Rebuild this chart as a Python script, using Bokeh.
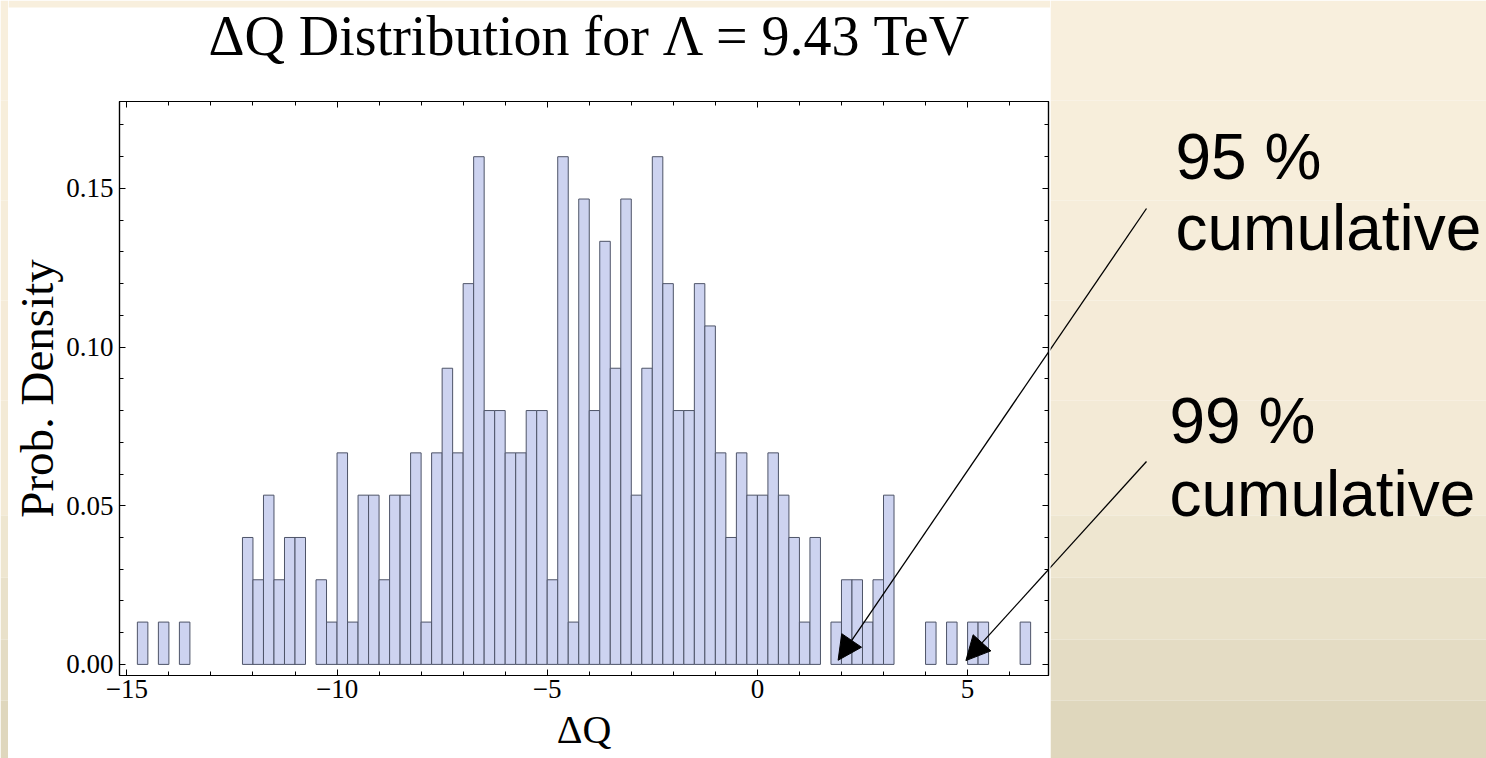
import math

from bokeh.embed import file_html
from bokeh.layouts import column, row
from bokeh.models import (Arrow, FixedTicker, Label, LinearAxis, NormalHead,
                          PrintfTickFormatter, Range1d)
from bokeh.plotting import figure
from bokeh.resources import INLINE

# ---------------------------------------------------------------- data
n_samples = 300
bin_width = 0.25
# left edge of every non-empty bin and the number of samples in it
bin_left = [-14.75, -14.25, -13.75,
            -12.25, -12.0, -11.75, -11.5, -11.25, -11.0,
            -10.5, -10.25, -10.0, -9.75, -9.5, -9.25, -9.0, -8.75, -8.5, -8.25, -8.0,
            -7.75, -7.5, -7.25, -7.0, -6.75, -6.5, -6.25, -6.0, -5.75, -5.5, -5.25,
            -5.0, -4.75, -4.5, -4.25, -4.0, -3.75, -3.5, -3.25, -3.0, -2.75, -2.5, -2.25,
            -2.0, -1.75, -1.5, -1.25, -1.0, -0.75, -0.5, -0.25,
            0.0, 0.25, 0.5, 0.75, 1.0, 1.25, 1.75, 2.0, 2.25, 2.5, 2.75, 3.0,
            4.0, 4.5, 5.0, 5.25, 6.25]
bin_count = [1, 1, 1,
             3, 2, 4, 2, 3, 3,
             2, 1, 5, 1, 4, 4, 2, 4, 4, 5, 1,
             5, 7, 5, 9, 12, 6, 6, 5, 5, 6, 6,
             2, 12, 1, 11, 6, 10, 7, 11, 4, 7, 12, 9,
             6, 6, 9, 8, 5, 3, 5, 4,
             4, 5, 4, 3, 1, 3, 1, 2, 2, 1, 2, 4,
             1, 1, 1, 1, 1]

x_ticks = [-15, -10, -5, 0, 5]
x_tick_labels = ["\u221215", "\u221210", "\u22125", "0", "5"]
x_minor_ticks = [-15, -14, -13, -12, -11, -10, -9, -8, -7, -6, -5, -4, -3, -2,
                 -1, 0, 1, 2, 3, 4, 5, 6]
y_ticks = [0.0, 0.05, 0.10, 0.15]
y_minor_ticks = [0.0, 0.01, 0.02, 0.03, 0.04, 0.05, 0.06, 0.07, 0.08, 0.09, 0.10,
                 0.11, 0.12, 0.13, 0.14, 0.15, 0.16, 0.17]

title_text = "\u0394Q Distribution for \u039b = 9.43 TeV"
x_label = "\u0394Q"
y_label = "Prob. Density"
notes = [("95 %", "cumulative"), ("99 %", "cumulative")]
arrow_tips = [(1.92, 0.0013), (4.96, 0.0012)]

bin_right = [b + bin_width for b in bin_left]
density = [c / (n_samples * bin_width) for c in bin_count]

# ---------------------------------------------------------------- page geometry (px)
W, H = 1486, 758
CARD_L, CARD_R, CARD_T = 8, 1050, 7          # white card behind the chart
TITLE_H = 70                                 # strip holding the title
FRAME_L, FRAME_R, FRAME_T, FRAME_B = 119, 1048, 101, 675
X_MIN, X_MAX = -15.175, 6.925
Y_MIN, Y_MAX = -0.0035, 0.1774

# beige backdrop bands (top px, bottom px, colour), darkening downwards
bands = [(0, 100, "#F8EFDD"), (100, 200, "#F7EEDB"), (200, 300, "#F6EDDA"),
         (300, 400, "#F5EBD8"), (400, 515, "#F3EAD6"), (515, 577, "#EEE6D0"),
         (577, 639, "#E9E1CA"), (639, 700, "#E4DCC4"), (700, 758, "#DFD7BD")]


def x_px(x):
    return FRAME_L + (x - X_MIN) * (FRAME_R - FRAME_L) / (X_MAX - X_MIN)


def y_px(y):
    return FRAME_B - (y - Y_MIN) * (FRAME_B - FRAME_T) / (Y_MAX - Y_MIN)


def x_data(px):
    return X_MIN + (px - FRAME_L) * (X_MAX - X_MIN) / (FRAME_R - FRAME_L)


def y_data(py):
    return Y_MIN + (FRAME_B - py) * (Y_MAX - Y_MIN) / (FRAME_B - FRAME_T)


def mid_from_baseline(base, size, ascent, descent):
    """vertical centre of a text line whose baseline sits at `base` (px, downwards)"""
    return base + (descent - ascent) * size / 2


def decor(x0, x1, y0, y1, fill="white"):
    """Axis-less panel whose data units are page pixels (y grows downwards)."""
    f = figure(width=x1 - x0, height=y1 - y0, output_backend="svg", toolbar_location=None,
               x_range=Range1d(x0, x1), y_range=Range1d(y1, y0),
               x_axis_location=None, y_axis_location=None, min_border=0,
               background_fill_color=fill, border_fill_color=fill)
    f.grid.visible = False
    f.outline_line_color = None
    return f


def paint_bands(f, x0, x1):
    f.quad(left=[x0] * len(bands), right=[x1] * len(bands),
           top=[b[0] for b in bands], bottom=[b[1] for b in bands],
           fill_color=[b[2] for b in bands], line_color=None)


# ---------------------------------------------------------------- chart
p = figure(width=CARD_R - CARD_L, height=H - TITLE_H, output_backend="svg",
           toolbar_location=None,
           x_range=Range1d(X_MIN, X_MAX), y_range=Range1d(Y_MIN, Y_MAX),
           min_border_left=FRAME_L - CARD_L, min_border_right=CARD_R - FRAME_R,
           min_border_top=FRAME_T - TITLE_H, min_border_bottom=H - FRAME_B,
           background_fill_color="white", border_fill_color="white")
p.grid.visible = False
p.outline_line_color = "black"
p.outline_line_width = 1.2

p.quad(left=bin_left, right=bin_right, bottom=0, top=density,
       fill_color="#CDD3F0", line_color="#4E5468", line_width=1)

# ticks pointing inwards on all four sides
xt = FixedTicker(ticks=x_ticks, minor_ticks=x_minor_ticks)
yt = FixedTicker(ticks=y_ticks, minor_ticks=y_minor_ticks)
p.add_layout(LinearAxis(), "above")
p.add_layout(LinearAxis(), "right")
for ax in p.xaxis:
    ax.ticker = xt
for ax in p.yaxis:
    ax.ticker = yt
for ax in p.axis:
    ax.axis_line_color = "black"
    ax.axis_line_width = 1.2
    ax.major_tick_line_color = "black"
    ax.minor_tick_line_color = "black"
    ax.major_tick_in = 6
    ax.major_tick_out = 0
    ax.minor_tick_in = 4
    ax.minor_tick_out = 0
    ax.major_label_text_font = "Liberation Serif"
    ax.major_label_text_font_size = "27px"
    ax.major_label_text_color = "black"
    ax.axis_label_text_font = "Liberation Serif"
    ax.axis_label_text_font_style = "normal"
    ax.axis_label_text_color = "black"
# mirror axes: ticks only
p.above[0].major_label_overrides = {t: "" for t in x_ticks}
p.right[0].major_label_overrides = {t: "" for t in y_ticks}
for ax in (p.above[0], p.right[0]):
    ax.major_label_standoff = 0

bottom_ax = p.below[0]
bottom_ax.major_label_overrides = dict(zip(x_ticks, x_tick_labels))
bottom_ax.major_label_standoff = 4
bottom_ax.axis_label = x_label
bottom_ax.axis_label_text_font_size = "40px"
bottom_ax.axis_label_standoff = 6

left_ax = p.left[0]
left_ax.formatter = PrintfTickFormatter(format="%.2f")
left_ax.major_label_standoff = 6
left_ax.axis_label = y_label
left_ax.axis_label_text_font_size = "47px"
left_ax.axis_label_standoff = 0

# ---------------------------------------------------------------- title strip
top = decor(CARD_L, CARD_R, 0, TITLE_H)
top.quad(left=[CARD_L], right=[CARD_R], top=[0], bottom=[CARD_T],
         fill_color=bands[0][2], line_color=None)
top.add_layout(Label(x=589, y=mid_from_baseline(54, 56, 0.891, 0.216), text=title_text,
                     text_align="center", text_baseline="middle",
                     text_font="Liberation Serif", text_font_size="56px",
                     text_color="black"))

# ---------------------------------------------------------------- side panels
left_strip = decor(0, CARD_L, 0, H)
paint_bands(left_strip, 0, CARD_L)

side = decor(CARD_R, W, 0, H)
paint_bands(side, CARD_R, W)

# call-outs: text on the side panel, arrows running down onto the histogram
NOTE_SIZE = 64
note_pos = [(1175, 179, 250, 1146, 208), (1169, 443, 516, 1146, 461)]
for (head, tail), (lx, b1, b2, sx, sy), (tx, ty) in zip(notes, note_pos, arrow_tips):
    for txt, base in ((head, b1), (tail, b2)):
        side.add_layout(Label(x=lx, y=mid_from_baseline(base, NOTE_SIZE, 0.905, 0.212),
                              text=txt, text_align="left", text_baseline="middle",
                              text_font="Liberation Sans", text_font_size=f"{NOTE_SIZE}px",
                              text_color="black"))
    side.segment(x0=[sx], y0=[sy], x1=[x_px(tx)], y1=[y_px(ty)],
                 line_color="black", line_width=1.3)
    p.add_layout(Arrow(x_start=x_data(sx), y_start=y_data(sy), x_end=tx, y_end=ty,
                       line_color="black", line_width=1.3,
                       end=NormalHead(size=24, fill_color="black", line_color="black")))

page = row(left_strip, column(row(top), p), side)
open("out.html", "w").write(file_html(page, INLINE))
